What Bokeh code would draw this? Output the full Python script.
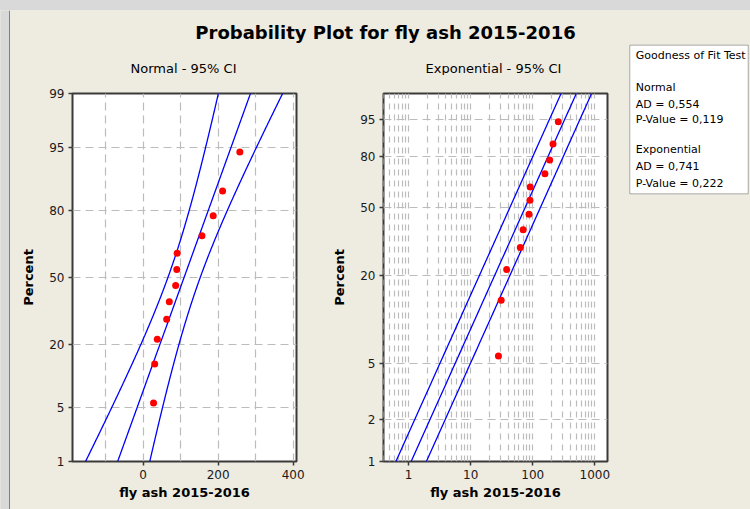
import math
from statistics import NormalDist, mean, stdev

import numpy as np
from bokeh.plotting import figure
from bokeh.models import Range1d, FixedTicker, Label, BoxAnnotation, CustomJSTickFormatter
from bokeh.layouts import row, column
from bokeh.embed import file_html
from bokeh.resources import INLINE

# ---------------- data / texts ----------------
main_title = "Probability Plot for fly ash 2015-2016"
normal_title = "Normal - 95% CI"
exp_title = "Exponential - 95% CI"
x_label = "fly ash 2015-2016"
y_label = "Percent"

fly_ash = [28, 31, 38, 63, 70, 87, 90, 91, 157, 187, 212, 258]

normal_pct_ticks = [1, 5, 20, 50, 80, 95, 99]
exp_pct_ticks = [1, 2, 5, 20, 50, 80, 95]
normal_x_ticks = [0, 200, 400]
normal_x_minor = [-100, 100, 300]
exp_x_ticks = [1, 10, 100, 1000]

gof_title = "Goodness of Fit Test"
gof_normal = ["Normal", "AD = 0,554", "P-Value = 0,119"]
gof_exp = ["Exponential", "AD = 0,741", "P-Value = 0,222"]

pct_min, pct_max = 1, 99
normal_x_range = (-188, 409)
exp_x_range = (0.394, 1600)
ci_level = 0.95

# ---------------- styling ----------------
BG = "#eeebe1"
OUTER = "#d9d9d9"
EDGE = "#2a2a2a"
GRID = "#bcbcbc"
FRAME = "#3a3a3a"
FONT = "DejaVu Sans"
BLUE = "#0000ff"
RED = "#ff0000"

# ---------------- computations ----------------
nd = NormalDist()
xs = sorted(fly_ash)
n = len(xs)
ranks = [(i - 0.3) / (n + 0.4) for i in range(1, n + 1)]


def wexp(p):
    return math.log10(-math.log(1.0 - p))


z_pts = [nd.inv_cdf(p) for p in ranks]
w_pts = [wexp(p) for p in ranks]

mu = mean(xs)
sd = stdev(xs)
zc = nd.inv_cdf(0.5 + ci_level / 2)

z_lo, z_hi = nd.inv_cdf(pct_min / 100), nd.inv_cdf(pct_max / 100)
zz = np.linspace(z_lo, z_hi, 200)
n_mid = mu + zz * sd
n_se = sd * np.sqrt(1.0 / n + zz ** 2 / (2.0 * (n - 1)))
n_low = n_mid - zc * n_se
n_up = n_mid + zc * n_se

theta = mean(xs)
pp = np.linspace(pct_min / 100, pct_max / 100, 200)
qq = -np.log(1.0 - pp)
ww = np.log10(qq)
fac = math.exp(zc / math.sqrt(n))
e_mid = theta * qq
e_low = theta * qq / fac
e_up = theta * qq * fac
w_lo, w_hi = wexp(pct_min / 100), wexp(pct_max / 100)


def pct_formatter(pcts, transform):
    pos = [transform(p / 100) for p in pcts]
    labs = [str(p) for p in pcts]
    return CustomJSTickFormatter(args=dict(pos=pos, lab=labs), code="""
        let best = ''; let d = 1e9;
        for (let i = 0; i < pos.length; i++) {
            const dd = Math.abs(pos[i] - tick);
            if (dd < d) { d = dd; best = lab[i]; }
        }
        return best;
    """)


def blank(w, h, bg):
    f = figure(width=w, height=h, x_range=Range1d(0, w), y_range=Range1d(h, 0),
               output_backend="svg", toolbar_location=None, min_border=0,
               x_axis_location=None, y_axis_location=None)
    f.background_fill_color = bg
    f.border_fill_color = bg
    f.outline_line_color = None
    f.grid.visible = False
    return f


def style(p):
    p.background_fill_color = "white"
    p.border_fill_color = BG
    p.outline_line_color = FRAME
    p.outline_line_width = 2
    for ax in p.axis:
        ax.axis_line_color = None
        ax.major_tick_line_color = FRAME
        ax.major_tick_line_width = 1.5
        ax.major_tick_in = 0
        ax.major_tick_out = 4
        ax.minor_tick_line_color = None
        ax.major_label_text_font = FONT
        ax.major_label_text_font_size = "12px"
        ax.major_label_text_color = "#1a1a1a"
        ax.axis_label_text_font = FONT
        ax.axis_label_text_font_size = "13px"
        ax.axis_label_text_font_style = "bold"
        ax.axis_label_text_color = "black"
    for g in p.grid:
        g.grid_line_color = GRID
        g.grid_line_dash = "8 5"
        g.grid_line_width = 1.2
    p.xaxis.major_label_standoff = 4
    p.xaxis.axis_label_standoff = 3
    p.yaxis.major_label_standoff = 4
    p.yaxis.axis_label_standoff = 10
    p.xaxis.axis_label = x_label
    p.yaxis.axis_label = y_label


def text_label(x, y, txt, size, bold=False, align="center"):
    return Label(x=x, y=y, text=txt, text_align=align, text_baseline="middle",
                 text_font=FONT, text_font_size=size,
                 text_font_style="bold" if bold else "normal", text_color="black")


# ---------------- outer strips (grey surround with dark edge) ----------------
top_strip = blank(750, 10, OUTER)
top_strip.add_layout(BoxAnnotation(left=9, right=750, top=9, bottom=10, fill_color=EDGE, fill_alpha=1,
                                   line_color=None))
left_strip = blank(10, 499, OUTER)
left_strip.add_layout(BoxAnnotation(left=9, right=10, top=0, bottom=499, fill_color=EDGE, fill_alpha=1,
                                    line_color=None))

# ---------------- header ----------------
header = blank(610, 65, BG)
header.add_layout(text_label(375, 22, main_title, "18px", bold=True))
header.add_layout(text_label(173, 58, normal_title, "13px"))
header.add_layout(text_label(483, 58, exp_title, "13px"))

# ---------------- normal plot ----------------
p1 = figure(width=310, height=434, x_range=Range1d(*normal_x_range), y_range=Range1d(z_lo, z_hi),
            output_backend="svg", toolbar_location=None,
            min_border_left=62, min_border_right=24, min_border_top=18, min_border_bottom=48)
style(p1)
p1.xaxis.ticker = FixedTicker(ticks=normal_x_ticks, minor_ticks=normal_x_minor)
p1.xgrid.minor_grid_line_color = GRID
p1.xgrid.minor_grid_line_dash = "8 5"
p1.xgrid.minor_grid_line_width = 1.2
p1.yaxis.ticker = FixedTicker(ticks=[nd.inv_cdf(p / 100) for p in normal_pct_ticks])
p1.yaxis.formatter = pct_formatter(normal_pct_ticks, nd.inv_cdf)
for xl in (n_low, n_mid, n_up):
    p1.line(xl, zz, line_color=BLUE, line_width=1.3)
p1.scatter(xs, z_pts, size=7, color=RED, line_color=None)

# ---------------- exponential plot ----------------
minor_log = [m * 10.0 ** e for e in range(-1, 4) for m in range(2, 10)]
p2 = figure(width=300, height=434, x_axis_type="log", x_range=Range1d(*exp_x_range),
            y_range=Range1d(w_lo, w_hi), output_backend="svg", toolbar_location=None,
            min_border_left=63, min_border_right=13, min_border_top=18, min_border_bottom=48)
style(p2)
p2.xaxis.ticker = FixedTicker(ticks=exp_x_ticks, minor_ticks=minor_log)
p2.xaxis.formatter = CustomJSTickFormatter(code="return String(Math.round(tick));")
p2.xgrid.minor_grid_line_color = GRID
p2.xgrid.minor_grid_line_dash = "6 5"
p2.xgrid.minor_grid_line_width = 1.2
p2.xgrid.grid_line_dash = "6 5"
p2.yaxis.ticker = FixedTicker(ticks=[wexp(p / 100) for p in exp_pct_ticks])
p2.yaxis.formatter = pct_formatter(exp_pct_ticks, wexp)
for xl in (e_low, e_mid, e_up):
    p2.line(xl, ww, line_color=BLUE, line_width=1.3)
p2.scatter(xs, w_pts, size=7, color=RED, line_color=None)

# ---------------- goodness of fit box ----------------
p3 = blank(130, 499, BG)
p3.add_layout(BoxAnnotation(left=9.3, right=127.7, top=34.7, bottom=183.3, fill_color="white", fill_alpha=1,
                            line_color="black", line_width=1))
gof_lines = [(gof_title, 45.0)] + list(zip(gof_normal, [77.3, 94.0, 109.3])) + \
            list(zip(gof_exp, [139.0, 156.0, 172.7]))
for txt, yy in gof_lines:
    p3.add_layout(text_label(15.3, yy, txt, "11px", align="left"))

bgstyle = {"background-color": BG}
content = row(column(header, row(p1, p2, styles=bgstyle), styles=bgstyle), p3, styles=bgstyle)
layout = column(top_strip, row(left_strip, content, styles=bgstyle), styles={"background-color": OUTER})

open("out.html", "w").write(file_html(layout, INLINE))
